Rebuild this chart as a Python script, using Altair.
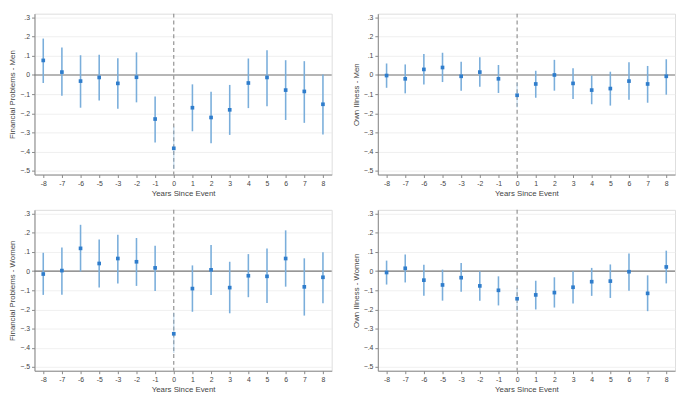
import altair as alt
import pandas as pd

years = [-8, -7, -6, -5, -3, -2, -1, 0, 1, 2, 3, 4, 5, 6, 7, 8]

# Financial Problems - Men
fin_men_est = [0.076, 0.015, -0.032, -0.013, -0.044, -0.012, -0.230, -0.383, -0.171, -0.222, -0.182, -0.042, -0.013, -0.079, -0.086, -0.153]
fin_men_lo = [-0.042, -0.109, -0.171, -0.133, -0.176, -0.143, -0.353, -0.49, -0.294, -0.356, -0.313, -0.173, -0.163, -0.235, -0.250, -0.311]
fin_men_hi = [0.190, 0.143, 0.103, 0.106, 0.087, 0.118, -0.113, -0.27, -0.049, -0.087, -0.052, 0.086, 0.129, 0.077, 0.072, 0.002]

# Own Illness - Men
ill_men_est = [-0.003, -0.020, 0.029, 0.039, -0.007, 0.015, -0.020, -0.106, -0.047, 0.000, -0.044, -0.079, -0.071, -0.032, -0.047, -0.007]
ill_men_lo = [-0.067, -0.096, -0.050, -0.037, -0.082, -0.062, -0.094, -0.170, -0.119, -0.082, -0.126, -0.153, -0.160, -0.129, -0.145, -0.103]
ill_men_hi = [0.060, 0.055, 0.109, 0.116, 0.069, 0.092, 0.052, -0.040, 0.022, 0.079, 0.035, -0.003, 0.017, 0.067, 0.047, 0.082]

# Financial Problems - Women
fin_wom_est = [-0.015, 0.003, 0.119, 0.040, 0.066, 0.049, 0.017, -0.327, -0.091, 0.007, -0.086, -0.024, -0.027, 0.066, -0.082, -0.032]
fin_wom_lo = [-0.124, -0.123, -0.002, -0.086, -0.064, -0.077, -0.104, -0.427, -0.212, -0.124, -0.220, -0.136, -0.166, -0.081, -0.232, -0.168]
fin_wom_hi = [0.096, 0.124, 0.242, 0.165, 0.190, 0.173, 0.133, -0.218, 0.030, 0.136, 0.049, 0.089, 0.118, 0.213, 0.067, 0.099]

# Own Illness - Women
ill_wom_est = [-0.007, 0.015, -0.047, -0.072, -0.034, -0.077, -0.100, -0.144, -0.124, -0.112, -0.084, -0.055, -0.052, -0.003, -0.116, 0.022]
ill_wom_lo = [-0.070, -0.059, -0.129, -0.154, -0.107, -0.154, -0.179, -0.209, -0.200, -0.190, -0.169, -0.129, -0.140, -0.102, -0.209, -0.064]
ill_wom_hi = [0.055, 0.087, 0.033, 0.008, 0.042, 0.000, -0.027, -0.087, -0.050, -0.032, 0.000, 0.017, 0.035, 0.092, -0.022, 0.107]

y_ticks = [0.3, 0.2, 0.1, 0.0, -0.1, -0.2, -0.3, -0.4, -0.5]

FONT = "Liberation Sans"
W, H = 303, 164
PT = "#2f7dcc"
CI = "#7aaedb"
YDOM = [-0.52, 0.32]


def panel(title, est, lo, hi):
    df = pd.DataFrame({"year": years, "est": est, "lo": lo, "hi": hi})
    xscale = alt.Scale(type="point", domain=years, padding=0.47)
    yscale = alt.Scale(domain=YDOM, nice=False, zero=False)
    xaxis = alt.Axis(title="Years Since Event", labelAngle=0, grid=False, gridOpacity=0,
                     domainColor="#888", tickColor="#888", tickSize=3,
                     labelFontSize=7, titleFontSize=8, labelColor="#444",
                     titleColor="#444", labelPadding=2, titlePadding=3,
                     titleFontWeight="normal", labelOverlap=False,
                     labelFont=FONT, titleFont=FONT)
    yaxis = alt.Axis(title=title, values=y_ticks, grid=True, gridColor="#ececec",
                     gridWidth=0.8, domainColor="#888", tickColor="#888", tickSize=3,
                     labelFontSize=7, titleFontSize=8, labelColor="#444",
                     titleColor="#444", labelPadding=2, titlePadding=3,
                     titleFontWeight="normal", labelOverlap=False, labelFlush=False,
                     labelFont=FONT, titleFont=FONT,
                     labelExpr="datum.value == 0 ? '0' : replace(format(datum.value, '.1f'), '0.', '.')")
    xs = alt.X("year:O", sort=years, scale=xscale, axis=xaxis, title="Years Since Event")
    base = alt.Chart(df)
    pts = base.mark_point(filled=True, shape="square", size=14, color=PT, opacity=1).encode(
        x=xs, y=alt.Y("est:Q", scale=yscale, axis=yaxis, title=title))
    ci = base.transform_filter("datum.year != 0").mark_rule(color=CI, strokeWidth=1.6).encode(
        x=xs, y=alt.Y("lo:Q", scale=yscale, axis=yaxis, title=title), y2="hi:Q")
    ci0 = base.transform_filter("datum.year == 0").mark_rule(color=CI, strokeWidth=1.6, opacity=0.35).encode(
        x=xs, y=alt.Y("lo:Q", scale=yscale, axis=yaxis, title=title), y2="hi:Q")
    zero = alt.Chart(pd.DataFrame({"z": [0.0]})).mark_rule(color="#777", strokeWidth=1.2).encode(
        y=alt.Y("z:Q", scale=yscale, axis=yaxis, title=title))
    vline = alt.Chart(pd.DataFrame({"year": [0]})).mark_rule(
        color="#888", strokeWidth=1.1, strokeDash=[4, 3]).encode(x=xs)
    return alt.layer(zero, vline, ci, ci0, pts).properties(width=W, height=H)


top = alt.hconcat(panel("Financial Problems - Men", fin_men_est, fin_men_lo, fin_men_hi),
                  panel("Own Illness - Men", ill_men_est, ill_men_lo, ill_men_hi), spacing=18)
bottom = alt.hconcat(panel("Financial Problems - Women", fin_wom_est, fin_wom_lo, fin_wom_hi),
                     panel("Own Illness - Women", ill_wom_est, ill_wom_lo, ill_wom_hi), spacing=18)

chart = (alt.vconcat(top, bottom, spacing=10)
         .properties(padding=0)
         .configure_view(strokeWidth=0)
         .configure_axisX(grid=False, gridOpacity=0)
         .configure(background="white"))

chart.save("out.html", embed_options={"renderer": "svg", "actions": False})
